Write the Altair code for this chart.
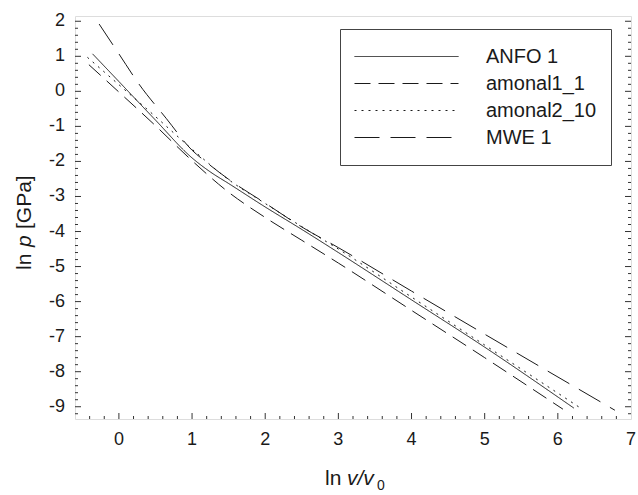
import altair as alt
import numpy as np
import pandas as pd

# ---- data ----
anfo_x = [-0.36, 0.0, 0.5, 1.0, 1.25, 1.5, 2.0, 2.5, 3.0, 4.0, 5.0, 6.22]
anfo_y = [1.07, 0.28, -0.82, -1.9, -2.3, -2.63, -3.3, -3.94, -4.6, -5.95, -7.3, -9.04]

amonal1_x = [-0.41, 0.0, 0.5, 1.0, 1.5, 2.0, 2.5, 3.0, 4.0, 5.0, 6.07]
amonal1_y = [0.76, -0.02, -0.98, -1.98, -2.88, -3.6, -4.25, -4.9, -6.25, -7.6, -9.07]

amonal2_x = [-0.43, 0.0, 0.5, 1.0, 1.5, 2.0, 2.5, 3.0, 4.0, 5.0, 6.29]
amonal2_y = [0.97, 0.19, -0.72, -1.65, -2.52, -3.2, -3.86, -4.5, -5.87, -7.24, -9.01]

mwe_x = [-0.27, 0.0, 0.27, 0.65, 1.0, 1.2, 1.5, 2.0, 2.5, 3.0, 4.0, 5.0, 6.78]
mwe_y = [1.92, 1.07, 0.22, -0.78, -1.68, -2.03, -2.51, -3.19, -3.87, -4.46, -5.7, -6.93, -9.1]

series_names = ["ANFO 1", "amonal1_1", "amonal2_10", "MWE 1"]
series_x = [anfo_x, amonal1_x, amonal2_x, mwe_x]
series_y = [anfo_y, amonal1_y, amonal2_y, mwe_y]
dashes = [[1, 0], [16, 8], [2, 5], [25, 11]]
widths = [1, 1, 1.9, 1]

x_labels = [0, 1, 2, 3, 4, 5, 6, 7]
y_labels = [-9, -8, -7, -6, -5, -4, -3, -2, -1, 0, 1, 2]

XMIN, XMAX = -0.6, 7.0
YMIN, YMAX = -9.35, 2.15
W, H = 556, 403
FONT = "Liberation Sans"
INK = "#1a1a1a"
TICK = "#333"

rows = []
for name, xs, ys in zip(series_names, series_x, series_y):
    for i, (a, b) in enumerate(zip(xs, ys)):
        rows.append({"series": name, "x": a, "y": b, "i": i})
df = pd.DataFrame(rows)

xscale = alt.Scale(domain=[XMIN, XMAX], nice=False, zero=False)
yscale = alt.Scale(domain=[YMIN, YMAX], nice=False, zero=False)

lines = alt.Chart(df).mark_line(color=INK, interpolate="monotone").encode(
    x=alt.X("x:Q", scale=xscale, axis=None),
    y=alt.Y("y:Q", scale=yscale, axis=None),
    strokeDash=alt.StrokeDash(
        "series:N",
        scale=alt.Scale(domain=series_names, range=dashes),
        legend=alt.Legend(title=None, orient="none", legendX=265, legendY=13,
                          strokeColor="#444", fillColor="white", padding=14,
                          symbolType="stroke", symbolSize=10816, symbolStrokeWidth=1,
                          symbolStrokeColor=INK, clipHeight=27, rowPadding=0,
                          labelOffset=27, labelFont=FONT, labelFontSize=20,
                          labelColor=INK, labelLimit=300),
    ),
    strokeWidth=alt.StrokeWidth("series:N", scale=alt.Scale(domain=series_names, range=widths),
                                legend=None),
    order="i:Q",
)

# inward tick marks (minor every 0.2, major at integers)
xt = [round(float(v), 1) for v in np.arange(-0.4, 6.99, 0.2)]
xlen = [6.0 if abs(v - round(v)) < 1e-6 else 3.0 for v in xt]
xticks = pd.DataFrame({
    "tv": xt,
    "ta": [YMIN] * len(xt),
    "tb": [YMIN + L * (YMAX - YMIN) / H for L in xlen],
})

yt = [round(float(v), 1) for v in np.arange(-9.2, 2.01, 0.2)]
ylen = [6.0 if abs(v - round(v)) < 1e-6 else 3.0 for v in yt]
yticks = pd.DataFrame({
    "tv": yt,
    "la": [XMIN] * len(yt),
    "lb": [XMIN + L * (XMAX - XMIN) / W for L in ylen],
    "ra": [XMAX] * len(yt),
    "rb": [XMAX - L * (XMAX - XMIN) / W for L in ylen],
})

tick_bottom = alt.Chart(xticks).mark_rule(color=TICK, strokeWidth=1).encode(
    x=alt.X("tv:Q", axis=None), y=alt.Y("ta:Q", axis=None), y2="tb:Q")
tick_left = alt.Chart(yticks).mark_rule(color=TICK, strokeWidth=1).encode(
    y=alt.Y("tv:Q", axis=None), x=alt.X("la:Q", axis=None), x2="lb:Q")
tick_right = alt.Chart(yticks).mark_rule(color=TICK, strokeWidth=1).encode(
    y=alt.Y("tv:Q", axis=None), x=alt.X("ra:Q", axis=None), x2="rb:Q")

# tick labels placed through the scales
xlab = pd.DataFrame({"v": x_labels, "t": [str(v) for v in x_labels], "at": [YMIN] * len(x_labels)})
ylab = pd.DataFrame({"v": y_labels, "t": [("-" + str(-v)) if v < 0 else str(v) for v in y_labels],
                     "at": [XMIN] * len(y_labels)})
xlabels = alt.Chart(xlab).mark_text(font=FONT, fontSize=18, color=INK, align="center",
                                    baseline="top", dy=12).encode(
    x=alt.X("v:Q", axis=None), y=alt.Y("at:Q", axis=None), text="t:N")
ylabels = alt.Chart(ylab).mark_text(font=FONT, fontSize=18, color=INK, align="right",
                                    baseline="middle", dx=-10).encode(
    y=alt.Y("v:Q", axis=None), x=alt.X("at:Q", axis=None), text="t:N")


def seg(text, x, y, size=21, style="normal", angle=0):
    d = pd.DataFrame({"t": [text]})
    kw = dict(font=FONT, fontSize=size, fontStyle=style, color=INK, align="left",
              baseline="alphabetic")
    if angle:
        kw["angle"] = angle
    return alt.Chart(d).mark_text(**kw).encode(text="t:N", x=alt.value(x), y=alt.value(y))


# x title: ln v/v0
xt_base = 469
xtitle = (seg("ln", 250, xt_base) + seg("v/v", 272, xt_base, style="italic")
          + seg("0", 302, xt_base + 5, size=14))
# y title: ln p [GPa] (rotated)
yx = -44
ytitle = (seg("ln", yx, 254, angle=270) + seg("p", yx, 231, style="italic", angle=270)
          + seg("[GPa]", yx, 213, angle=270))

chart = (
    alt.layer(lines, tick_bottom, tick_left, tick_right, xlabels, ylabels, xtitle, ytitle)
    .properties(
        width=W, height=H,
        autosize=alt.AutoSizeParams(type="none"),
        padding={"left": 75, "top": 16, "right": 7, "bottom": 76},
    )
    .configure_view(stroke="#333", strokeWidth=1)
    .configure(background="white")
)

chart.save("out.html", embed_options={"renderer": "svg", "actions": False})
